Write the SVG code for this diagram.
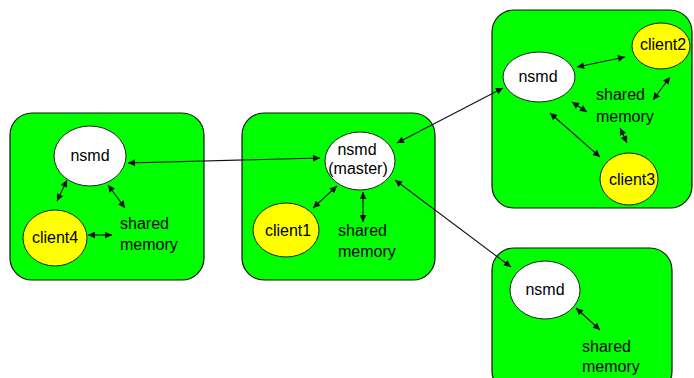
<svg xmlns="http://www.w3.org/2000/svg" width="694" height="378" viewBox="0 0 694 378">
  <style>
    .box { fill: #00ff00; stroke: #111; stroke-width: 1.2; }
    .daemon { fill: #ffffff; stroke: #222; stroke-width: 1; }
    .client { fill: #ffff00; stroke: #222; stroke-width: 1; }
    text { font-family: "Liberation Sans", Arial, sans-serif; font-size: 16px; fill: #000; }
    .c { text-anchor: middle; }
    .shm { font-size: 16.7px; }
    .link { stroke: #111; stroke-width: 1.1; fill: none; marker-start: url(#head); marker-end: url(#head); }
  </style>
  <defs>
    <marker id="head" viewBox="0 0 10 10" refX="10" refY="5" markerWidth="8" markerHeight="7" markerUnits="userSpaceOnUse" orient="auto-start-reverse">
      <path d="M0,0 L10,5 L0,10 z" fill="#111"/>
    </marker>
  </defs>

  <!-- host boxes -->
  <rect id="host-left" class="box" x="10" y="113" width="194" height="167" rx="22"/>
  <rect id="host-master" class="box" x="242" y="113" width="193" height="167" rx="22"/>
  <rect id="host-top" class="box" x="492" y="10" width="200" height="198" rx="22"/>
  <rect id="host-bottom" class="box" x="492" y="248" width="180" height="145" rx="22"/>

  <!-- left host -->
  <g id="nsmd-left">
    <ellipse class="daemon" cx="90" cy="156" rx="36" ry="30"/>
    <text class="c" x="90" y="161">nsmd</text>
  </g>
  <g id="client4">
    <ellipse class="client" cx="55" cy="238" rx="32" ry="28"/>
    <text class="c" x="55" y="243">client4</text>
  </g>
  <g id="shm-left" class="shm">
    <text x="120" y="229">shared</text>
    <text x="120" y="250">memory</text>
  </g>

  <!-- master host -->
  <g id="nsmd-master">
    <ellipse class="daemon" cx="360" cy="161" rx="35" ry="29"/>
    <text class="c" x="357" y="155">nsmd</text>
    <text class="c" x="358" y="174">(master)</text>
  </g>
  <g id="client1">
    <ellipse class="client" cx="286" cy="230" rx="33" ry="27"/>
    <text class="c" x="288" y="236">client1</text>
  </g>
  <g id="shm-master" class="shm">
    <text x="338" y="236">shared</text>
    <text x="338" y="257">memory</text>
  </g>

  <!-- top right host -->
  <g id="nsmd-top">
    <ellipse class="daemon" cx="539" cy="77" rx="36" ry="25"/>
    <text class="c" x="538" y="82">nsmd</text>
  </g>
  <g id="client2">
    <ellipse class="client" cx="661" cy="46" rx="29" ry="23"/>
    <text class="c" x="663" y="50">client2</text>
  </g>
  <g id="client3">
    <ellipse class="client" cx="629" cy="179" rx="29" ry="26"/>
    <text class="c" x="632" y="185">client3</text>
  </g>
  <g id="shm-top" class="shm">
    <text x="596" y="100">shared</text>
    <text x="596" y="122">memory</text>
  </g>

  <!-- bottom right host -->
  <g id="nsmd-bottom">
    <ellipse class="daemon" cx="545" cy="290" rx="35" ry="29"/>
    <text class="c" x="545" y="295">nsmd</text>
  </g>
  <g id="shm-bottom" class="shm">
    <text x="582" y="352">shared</text>
    <text x="582" y="372">memory</text>
  </g>

  <!-- connectors -->
  <g id="connectors">
    <line class="link" x1="57" y1="201" x2="67" y2="180"/>
    <line class="link" x1="108" y1="185" x2="125" y2="208"/>
    <line class="link" x1="88" y1="235" x2="112" y2="235"/>

    <line class="link" x1="128" y1="163" x2="320" y2="158"/>
    <line class="link" x1="397" y1="143" x2="503" y2="88"/>
    <line class="link" x1="395" y1="180" x2="511" y2="267"/>

    <line class="link" x1="337" y1="186" x2="313" y2="208"/>
    <line class="link" x1="363" y1="192" x2="363" y2="222"/>

    <line class="link" x1="577" y1="67" x2="625" y2="57"/>
    <line class="link" x1="670" y1="77" x2="653" y2="100"/>
    <line class="link" x1="572" y1="102" x2="587" y2="112"/>
    <line class="link" x1="550" y1="113" x2="600" y2="157"/>
    <line class="link" x1="620" y1="128" x2="627" y2="143"/>

    <line class="link" x1="576" y1="308" x2="600" y2="330"/>
  </g>
</svg>
